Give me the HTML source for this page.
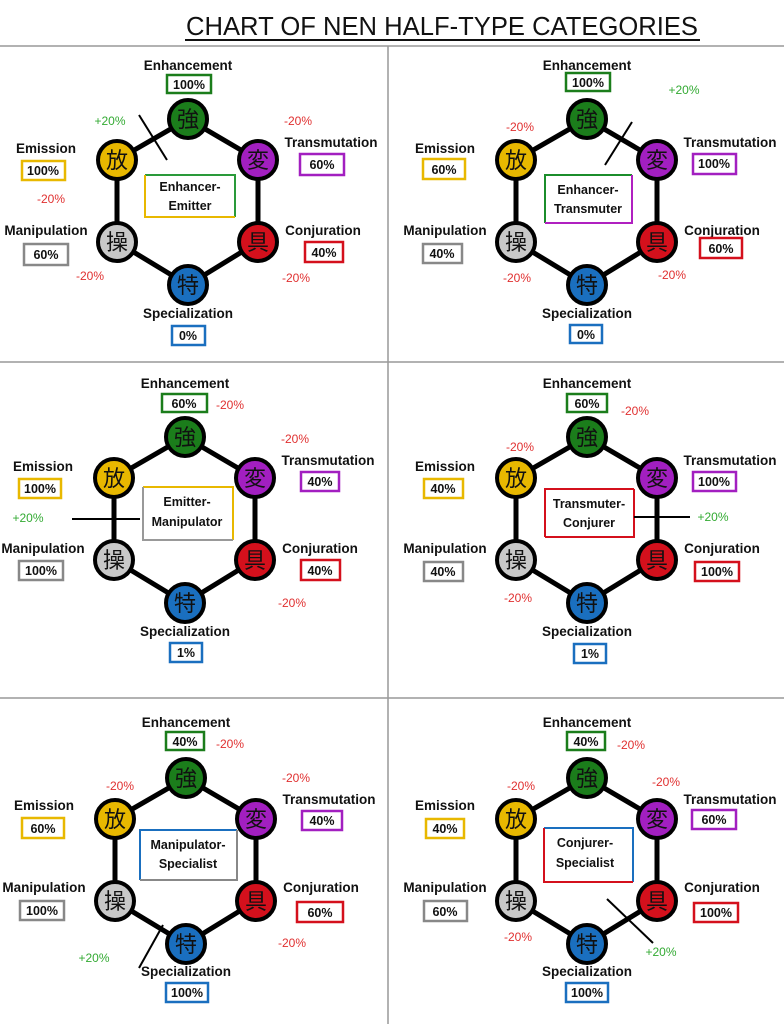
<!DOCTYPE html>
<html><head><meta charset="utf-8"><style>
html,body{margin:0;padding:0;background:#fff}
svg{display:block}
.l{font:bold 13.5px "Liberation Sans",sans-serif;fill:#111;text-anchor:middle}
.v{font:bold 12.5px "Liberation Sans",sans-serif;fill:#111;text-anchor:middle}
.m{font:12px "Liberation Sans",sans-serif;fill:#e03030;text-anchor:middle}
.p{font:12px "Liberation Sans",sans-serif;fill:#33aa33;text-anchor:middle}
.k{font:22px "Noto Sans CJK JP",sans-serif;fill:#111;text-anchor:middle}
.c{font:bold 12.5px "Liberation Sans",sans-serif;fill:#111;text-anchor:middle}
.hex{fill:none;stroke:#000;stroke-width:5}
.n{stroke:#000;stroke-width:4}
</style></head><body>
<svg width="784" height="1024" viewBox="0 0 784 1024" xmlns="http://www.w3.org/2000/svg">
<rect width="784" height="1024" fill="#fff"/>
<text x="442" y="35" style="font:26px 'Liberation Sans',sans-serif;fill:#111;text-anchor:middle" textLength="512" lengthAdjust="spacingAndGlyphs">CHART OF NEN HALF-TYPE CATEGORIES</text>
<line x1="185" y1="40" x2="700" y2="40" stroke="#111" stroke-width="2"/>
<line x1="0" y1="46" x2="784" y2="46" stroke="#999" stroke-width="1.5"/>
<line x1="388" y1="46" x2="388" y2="1024" stroke="#999" stroke-width="1.5"/>
<line x1="0" y1="362" x2="784" y2="362" stroke="#999" stroke-width="1.5"/>
<line x1="0" y1="698" x2="784" y2="698" stroke="#999" stroke-width="1.5"/>

<!-- Panel 1 -->
<g transform="translate(0,0)">
<polygon class="hex" points="188,119 258,160 258,242 188,285 117,242 117,160"/>
<circle class="n" cx="188" cy="119" r="19" fill="#1b7d1b"/><text class="k" x="188" y="127">強</text>
<circle class="n" cx="258" cy="160" r="19" fill="#a21fc0"/><text class="k" x="258" y="168">変</text>
<circle class="n" cx="258" cy="242" r="19" fill="#d4101c"/><text class="k" x="258" y="250">具</text>
<circle class="n" cx="188" cy="285" r="19" fill="#1a6fbf"/><text class="k" x="188" y="293">特</text>
<circle class="n" cx="117" cy="242" r="19" fill="#c8c8c8"/><text class="k" x="117" y="250">操</text>
<circle class="n" cx="117" cy="160" r="19" fill="#e8b800"/><text class="k" x="117" y="168">放</text>
<text class="l" x="188" y="70">Enhancement</text>
<text class="l" x="46" y="153">Emission</text>
<text class="l" x="331" y="147">Transmutation</text>
<text class="l" x="46" y="235">Manipulation</text>
<text class="l" x="323" y="235">Conjuration</text>
<text class="l" x="188" y="318">Specialization</text>
<rect x="167" y="75" width="44" height="18" fill="#fff" stroke="#1b7d1b" stroke-width="2.5"/><text class="v" x="189" y="89">100%</text>
<rect x="22" y="161" width="43" height="19" fill="#fff" stroke="#e8b800" stroke-width="2.5"/><text class="v" x="43" y="175">100%</text>
<rect x="300" y="154" width="44" height="21" fill="#fff" stroke="#a21fc0" stroke-width="2.5"/><text class="v" x="322" y="169">60%</text>
<rect x="24" y="244" width="44" height="21" fill="#fff" stroke="#888" stroke-width="2.5"/><text class="v" x="46" y="259">60%</text>
<rect x="305" y="242" width="38" height="20" fill="#fff" stroke="#d4101c" stroke-width="2.5"/><text class="v" x="324" y="257">40%</text>
<rect x="172" y="326" width="33" height="19" fill="#fff" stroke="#1a6fbf" stroke-width="2.5"/><text class="v" x="188" y="340">0%</text>
<path d="M145,175H235V217" fill="none" stroke="#2a9a3a" stroke-width="2"/><path d="M145,175V217H235" fill="none" stroke="#e8b800" stroke-width="2"/>
<text class="c" x="190" y="191">Enhancer-</text><text class="c" x="190" y="210">Emitter</text>
<line x1="139" y1="115" x2="167" y2="160" stroke="#000" stroke-width="2"/>
<text class="p" x="110" y="125">+20%</text>
<text class="m" x="298" y="125">-20%</text><text class="m" x="51" y="203">-20%</text>
<text class="m" x="90" y="280">-20%</text><text class="m" x="296" y="282">-20%</text>
</g>

<!-- Panel 2 -->
<g transform="translate(399,0)">
<polygon class="hex" points="188,119 258,160 258,242 188,285 117,242 117,160"/>
<circle class="n" cx="188" cy="119" r="19" fill="#1b7d1b"/><text class="k" x="188" y="127">強</text>
<circle class="n" cx="258" cy="160" r="19" fill="#a21fc0"/><text class="k" x="258" y="168">変</text>
<circle class="n" cx="258" cy="242" r="19" fill="#d4101c"/><text class="k" x="258" y="250">具</text>
<circle class="n" cx="188" cy="285" r="19" fill="#1a6fbf"/><text class="k" x="188" y="293">特</text>
<circle class="n" cx="117" cy="242" r="19" fill="#c8c8c8"/><text class="k" x="117" y="250">操</text>
<circle class="n" cx="117" cy="160" r="19" fill="#e8b800"/><text class="k" x="117" y="168">放</text>
<text class="l" x="188" y="70">Enhancement</text>
<text class="l" x="46" y="153">Emission</text>
<text class="l" x="331" y="147">Transmutation</text>
<text class="l" x="46" y="235">Manipulation</text>
<text class="l" x="323" y="235">Conjuration</text>
<text class="l" x="188" y="318">Specialization</text>
<rect x="167" y="73" width="44" height="18" fill="#fff" stroke="#1b7d1b" stroke-width="2.5"/><text class="v" x="189" y="87">100%</text>
<rect x="24" y="159" width="42" height="20" fill="#fff" stroke="#e8b800" stroke-width="2.5"/><text class="v" x="45" y="174">60%</text>
<rect x="294" y="154" width="43" height="20" fill="#fff" stroke="#a21fc0" stroke-width="2.5"/><text class="v" x="315" y="168">100%</text>
<rect x="24" y="244" width="39" height="19" fill="#fff" stroke="#888" stroke-width="2.5"/><text class="v" x="43" y="258">40%</text>
<rect x="301" y="238" width="42" height="20" fill="#fff" stroke="#d4101c" stroke-width="2.5"/><text class="v" x="322" y="253">60%</text>
<rect x="171" y="325" width="32" height="18" fill="#fff" stroke="#1a6fbf" stroke-width="2.5"/><text class="v" x="187" y="339">0%</text>
<path d="M146,223V175H233" fill="none" stroke="#1b8d2b" stroke-width="2"/><path d="M233,175V223H146" fill="none" stroke="#b020c0" stroke-width="2"/>
<text class="c" x="189" y="194">Enhancer-</text><text class="c" x="189" y="213">Transmuter</text>
<line x1="233" y1="122" x2="206" y2="165" stroke="#000" stroke-width="2"/>
<text class="p" x="285" y="94">+20%</text>
<text class="m" x="121" y="131">-20%</text><text class="m" x="118" y="282">-20%</text><text class="m" x="273" y="279">-20%</text>
</g>

<!-- Panel 3 -->
<g transform="translate(-3,318)">
<polygon class="hex" points="188,119 258,160 258,242 188,285 117,242 117,160"/>
<circle class="n" cx="188" cy="119" r="19" fill="#1b7d1b"/><text class="k" x="188" y="127">強</text>
<circle class="n" cx="258" cy="160" r="19" fill="#a21fc0"/><text class="k" x="258" y="168">変</text>
<circle class="n" cx="258" cy="242" r="19" fill="#d4101c"/><text class="k" x="258" y="250">具</text>
<circle class="n" cx="188" cy="285" r="19" fill="#1a6fbf"/><text class="k" x="188" y="293">特</text>
<circle class="n" cx="117" cy="242" r="19" fill="#c8c8c8"/><text class="k" x="117" y="250">操</text>
<circle class="n" cx="117" cy="160" r="19" fill="#e8b800"/><text class="k" x="117" y="168">放</text>
<text class="l" x="188" y="70">Enhancement</text>
<text class="l" x="46" y="153">Emission</text>
<text class="l" x="331" y="147">Transmutation</text>
<text class="l" x="46" y="235">Manipulation</text>
<text class="l" x="323" y="235">Conjuration</text>
<text class="l" x="188" y="318">Specialization</text>
<rect x="165" y="76" width="45" height="18" fill="#fff" stroke="#1b7d1b" stroke-width="2.5"/><text class="v" x="187" y="90">60%</text>
<rect x="22" y="161" width="42" height="19" fill="#fff" stroke="#e8b800" stroke-width="2.5"/><text class="v" x="43" y="175">100%</text>
<rect x="304" y="154" width="38" height="19" fill="#fff" stroke="#a21fc0" stroke-width="2.5"/><text class="v" x="323" y="168">40%</text>
<rect x="22" y="243" width="44" height="19" fill="#fff" stroke="#888" stroke-width="2.5"/><text class="v" x="44" y="257">100%</text>
<rect x="304" y="242" width="39" height="20" fill="#fff" stroke="#d4101c" stroke-width="2.5"/><text class="v" x="323" y="257">40%</text>
<rect x="173" y="325" width="32" height="19" fill="#fff" stroke="#1a6fbf" stroke-width="2.5"/><text class="v" x="189" y="339">1%</text>
<path d="M146,169H236V222" fill="none" stroke="#e8b800" stroke-width="2"/><path d="M146,169V222H236" fill="none" stroke="#999" stroke-width="2"/>
<text class="c" x="190" y="188">Emitter-</text><text class="c" x="190" y="208">Manipulator</text>
<line x1="75" y1="201" x2="143" y2="201" stroke="#000" stroke-width="2"/>
<text class="p" x="31" y="204">+20%</text>
<text class="m" x="233" y="91">-20%</text><text class="m" x="298" y="125">-20%</text><text class="m" x="295" y="289">-20%</text>
</g>

<!-- Panel 4 -->
<g transform="translate(399,318)">
<polygon class="hex" points="188,119 258,160 258,242 188,285 117,242 117,160"/>
<circle class="n" cx="188" cy="119" r="19" fill="#1b7d1b"/><text class="k" x="188" y="127">強</text>
<circle class="n" cx="258" cy="160" r="19" fill="#a21fc0"/><text class="k" x="258" y="168">変</text>
<circle class="n" cx="258" cy="242" r="19" fill="#d4101c"/><text class="k" x="258" y="250">具</text>
<circle class="n" cx="188" cy="285" r="19" fill="#1a6fbf"/><text class="k" x="188" y="293">特</text>
<circle class="n" cx="117" cy="242" r="19" fill="#c8c8c8"/><text class="k" x="117" y="250">操</text>
<circle class="n" cx="117" cy="160" r="19" fill="#e8b800"/><text class="k" x="117" y="168">放</text>
<text class="l" x="188" y="70">Enhancement</text>
<text class="l" x="46" y="153">Emission</text>
<text class="l" x="331" y="147">Transmutation</text>
<text class="l" x="46" y="235">Manipulation</text>
<text class="l" x="323" y="235">Conjuration</text>
<text class="l" x="188" y="318">Specialization</text>
<rect x="168" y="76" width="40" height="18" fill="#fff" stroke="#1b7d1b" stroke-width="2.5"/><text class="v" x="188" y="90">60%</text>
<rect x="25" y="161" width="39" height="19" fill="#fff" stroke="#e8b800" stroke-width="2.5"/><text class="v" x="44" y="175">40%</text>
<rect x="294" y="154" width="43" height="19" fill="#fff" stroke="#a21fc0" stroke-width="2.5"/><text class="v" x="315" y="168">100%</text>
<rect x="25" y="244" width="39" height="19" fill="#fff" stroke="#888" stroke-width="2.5"/><text class="v" x="44" y="258">40%</text>
<rect x="296" y="244" width="44" height="19" fill="#fff" stroke="#d4101c" stroke-width="2.5"/><text class="v" x="318" y="258">100%</text>
<rect x="175" y="326" width="32" height="19" fill="#fff" stroke="#1a6fbf" stroke-width="2.5"/><text class="v" x="191" y="340">1%</text>
<path d="M146,219V171H235" fill="none" stroke="#d4101c" stroke-width="2"/><path d="M235,171V219H146" fill="none" stroke="#d4101c" stroke-width="2"/>
<text class="c" x="190" y="190">Transmuter-</text><text class="c" x="190" y="209">Conjurer</text>
<line x1="235" y1="199" x2="291" y2="199" stroke="#000" stroke-width="2"/>
<text class="p" x="314" y="203">+20%</text>
<text class="m" x="236" y="97">-20%</text><text class="m" x="121" y="133">-20%</text><text class="m" x="119" y="284">-20%</text>
</g>

<!-- Panel 5 -->
<g transform="translate(-2,659)">
<polygon class="hex" points="188,119 258,160 258,242 188,285 117,242 117,160"/>
<circle class="n" cx="188" cy="119" r="19" fill="#1b7d1b"/><text class="k" x="188" y="127">強</text>
<circle class="n" cx="258" cy="160" r="19" fill="#a21fc0"/><text class="k" x="258" y="168">変</text>
<circle class="n" cx="258" cy="242" r="19" fill="#d4101c"/><text class="k" x="258" y="250">具</text>
<circle class="n" cx="188" cy="285" r="19" fill="#1a6fbf"/><text class="k" x="188" y="293">特</text>
<circle class="n" cx="117" cy="242" r="19" fill="#c8c8c8"/><text class="k" x="117" y="250">操</text>
<circle class="n" cx="117" cy="160" r="19" fill="#e8b800"/><text class="k" x="117" y="168">放</text>
<text class="l" x="188" y="68">Enhancement</text>
<text class="l" x="46" y="151">Emission</text>
<text class="l" x="331" y="145">Transmutation</text>
<text class="l" x="46" y="233">Manipulation</text>
<text class="l" x="323" y="233">Conjuration</text>
<text class="l" x="188" y="317">Specialization</text>
<rect x="168" y="73" width="38" height="18" fill="#fff" stroke="#1b7d1b" stroke-width="2.5"/><text class="v" x="187" y="87">40%</text>
<rect x="24" y="159" width="42" height="20" fill="#fff" stroke="#e8b800" stroke-width="2.5"/><text class="v" x="45" y="174">60%</text>
<rect x="304" y="152" width="40" height="19" fill="#fff" stroke="#a21fc0" stroke-width="2.5"/><text class="v" x="324" y="166">40%</text>
<rect x="22" y="242" width="44" height="19" fill="#fff" stroke="#888" stroke-width="2.5"/><text class="v" x="44" y="256">100%</text>
<rect x="299" y="243" width="46" height="20" fill="#fff" stroke="#d4101c" stroke-width="2.5"/><text class="v" x="322" y="258">60%</text>
<rect x="168" y="324" width="42" height="19" fill="#fff" stroke="#1a6fbf" stroke-width="2.5"/><text class="v" x="189" y="338">100%</text>
<path d="M142,221V171H239" fill="none" stroke="#1a6fbf" stroke-width="2"/><path d="M239,171V221H142" fill="none" stroke="#888" stroke-width="2"/>
<text class="c" x="190" y="190">Manipulator-</text><text class="c" x="190" y="209">Specialist</text>
<line x1="165" y1="266" x2="141" y2="309" stroke="#000" stroke-width="2"/>
<text class="p" x="96" y="303">+20%</text>
<text class="m" x="232" y="89">-20%</text><text class="m" x="122" y="131">-20%</text><text class="m" x="298" y="123">-20%</text><text class="m" x="294" y="288">-20%</text>
</g>

<!-- Panel 6 -->
<g transform="translate(399,659)">
<polygon class="hex" points="188,119 258,160 258,242 188,285 117,242 117,160"/>
<circle class="n" cx="188" cy="119" r="19" fill="#1b7d1b"/><text class="k" x="188" y="127">強</text>
<circle class="n" cx="258" cy="160" r="19" fill="#a21fc0"/><text class="k" x="258" y="168">変</text>
<circle class="n" cx="258" cy="242" r="19" fill="#d4101c"/><text class="k" x="258" y="250">具</text>
<circle class="n" cx="188" cy="285" r="19" fill="#1a6fbf"/><text class="k" x="188" y="293">特</text>
<circle class="n" cx="117" cy="242" r="19" fill="#c8c8c8"/><text class="k" x="117" y="250">操</text>
<circle class="n" cx="117" cy="160" r="19" fill="#e8b800"/><text class="k" x="117" y="168">放</text>
<text class="l" x="188" y="68">Enhancement</text>
<text class="l" x="46" y="151">Emission</text>
<text class="l" x="331" y="145">Transmutation</text>
<text class="l" x="46" y="233">Manipulation</text>
<text class="l" x="323" y="233">Conjuration</text>
<text class="l" x="188" y="317">Specialization</text>
<rect x="168" y="73" width="38" height="18" fill="#fff" stroke="#1b7d1b" stroke-width="2.5"/><text class="v" x="187" y="87">40%</text>
<rect x="27" y="160" width="38" height="19" fill="#fff" stroke="#e8b800" stroke-width="2.5"/><text class="v" x="46" y="174">40%</text>
<rect x="293" y="151" width="44" height="19" fill="#fff" stroke="#a21fc0" stroke-width="2.5"/><text class="v" x="315" y="165">60%</text>
<rect x="25" y="242" width="43" height="20" fill="#fff" stroke="#888" stroke-width="2.5"/><text class="v" x="46" y="257">60%</text>
<rect x="295" y="244" width="44" height="19" fill="#fff" stroke="#d4101c" stroke-width="2.5"/><text class="v" x="317" y="258">100%</text>
<rect x="167" y="324" width="42" height="19" fill="#fff" stroke="#1a6fbf" stroke-width="2.5"/><text class="v" x="188" y="338">100%</text>
<path d="M145,169H234V223" fill="none" stroke="#1a6fbf" stroke-width="2"/><path d="M145,169V223H234" fill="none" stroke="#d4101c" stroke-width="2"/>
<text class="c" x="186" y="188">Conjurer-</text><text class="c" x="186" y="208">Specialist</text>
<line x1="208" y1="240" x2="254" y2="284" stroke="#000" stroke-width="2"/>
<text class="p" x="262" y="297">+20%</text>
<text class="m" x="232" y="90">-20%</text><text class="m" x="122" y="131">-20%</text><text class="m" x="267" y="127">-20%</text><text class="m" x="119" y="282">-20%</text>
</g>
</svg>
</body></html>
